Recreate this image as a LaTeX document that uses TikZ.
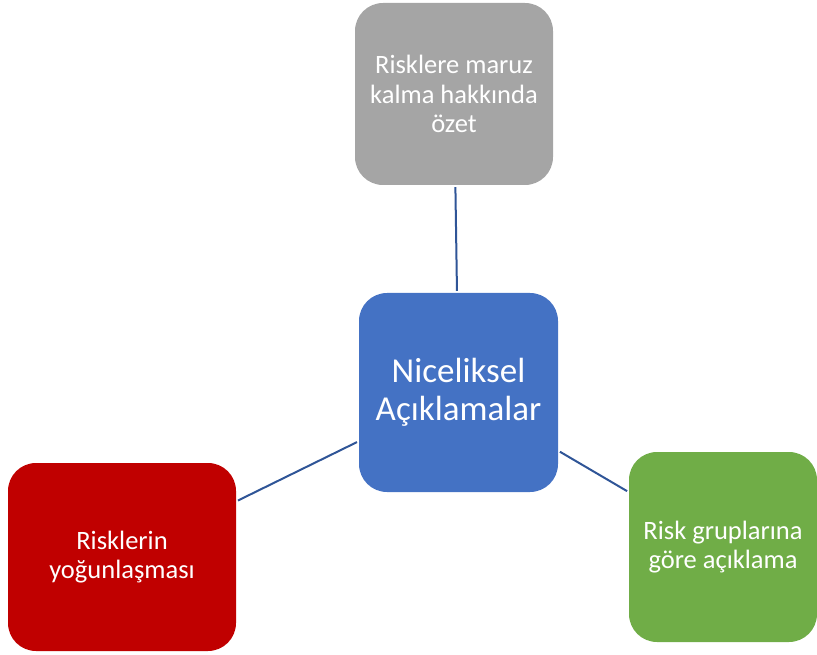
\documentclass[tikz,border=0pt]{standalone}
\usepackage{fontspec}
\setmainfont{Carlito}
\definecolor{grayfill}{HTML}{A5A5A5}
\definecolor{bluefill}{HTML}{4472C4}
\definecolor{redfill}{HTML}{C00000}
\definecolor{greenfill}{HTML}{70AD47}
\definecolor{linkcol}{HTML}{2F5597}
\tikzset{
  box/.style={rounded corners=28pt, text=white, align=center, inner sep=0pt, font=\fontsize{26.5}{29.5}\selectfont},
  link/.style={draw=linkcol, line width=2pt, shorten <=2pt, shorten >=2pt}
}
\begin{document}
\begin{tikzpicture}[x=1pt,y=-1pt]
\useasboundingbox (0,0) rectangle (817,655);
\node[box, fill=grayfill, minimum width=198pt, minimum height=182pt] (top) at (454,94) {Risklere maruz\\kalma hakkında\\özet};
\node[box, fill=bluefill, minimum width=199pt, minimum height=199pt, font=\fontsize{35}{38}\selectfont] (ctr) at (458.5,392.5) {Niceliksel\\Açıklamalar};
\node[box, fill=redfill, minimum width=228pt, minimum height=188pt] (left) at (122,557) {Risklerin\\yoğunlaşması};
\node[box, fill=greenfill, minimum width=188pt, minimum height=190pt] (right) at (723,547) {Risk gruplarına\\göre açıklama};
\draw[link] (ctr) -- (top);
\draw[link] (ctr) -- (left);
\draw[link] (ctr) -- (right);
\end{tikzpicture}
\end{document}
